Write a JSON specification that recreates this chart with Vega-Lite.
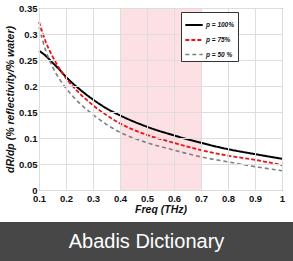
{
  "$schema": "https://vega.github.io/schema/vega-lite/v6.json",
  "autosize": {"type": "pad"},
  "padding": {"top": 2, "left": 0, "right": 0, "bottom": 0},
  "background": "white",
  "spacing": 6,
  "config": {
    "font": "Liberation Sans",
    "view": {"stroke": null},
    "axis": {"labelOverlap": false, "labelSeparation": 0, "labelBound": false}
  },
  "vconcat": [
    {
      "bounds": "flush",
      "spacing": 10,
      "hconcat": [
        {
          "width": 29,
          "height": 182,
          "data": {"values": []},
          "mark": "rect",
          "encoding": {}
        },
        {
          "width": 243,
          "height": 182,
          "view": {"stroke": "#555555", "strokeWidth": 1},
          "encoding": {
            "x": {"type": "quantitative", "scale": {"domain": [0.1, 1], "nice": false, "zero": false},
              "axis": {
                "values": [0.1, 0.2, 0.3, 0.4, 0.5, 0.6, 0.7, 0.8, 0.9, 1],
                "labelExpr": "format(datum.value, '~g')",
                "title": "Freq (THz)",
                "titleFont": "Liberation Sans", "titleFontSize": 10.5, "titleFontWeight": "bold", "titleFontStyle": "italic",
                "titleColor": "#111111", "titlePadding": 2,
                "labelFont": "Liberation Sans", "labelFontSize": 9.5, "labelFontWeight": "bold", "labelColor": "#111111",
                "labelFlush": false, "labelOverlap": false, "labelPadding": 3,
                "ticks": false, "domain": false,
                "grid": true, "gridColor": "#dddddd", "gridWidth": 1,
                "zindex": 1
              }}
          },
          "layer": [
            {
              "data": {"values": [{"start": 0.4, "end": 0.7}]},
              "mark": {"type": "rect", "fill": "#fce0e4"},
              "encoding": {
                "x": {"field": "start"},
                "x2": {"field": "end"}
              }
            },
            {
              "data": {"values": [
                {"freq": 0.1, "value": 0.268, "series": "p = 100%"},
                {"freq": 0.125, "value": 0.258, "series": "p = 100%"},
                {"freq": 0.15, "value": 0.245, "series": "p = 100%"},
                {"freq": 0.175, "value": 0.232, "series": "p = 100%"},
                {"freq": 0.2, "value": 0.2175, "series": "p = 100%"},
                {"freq": 0.25, "value": 0.194, "series": "p = 100%"},
                {"freq": 0.3, "value": 0.174, "series": "p = 100%"},
                {"freq": 0.35, "value": 0.157, "series": "p = 100%"},
                {"freq": 0.4, "value": 0.1435, "series": "p = 100%"},
                {"freq": 0.5, "value": 0.1216, "series": "p = 100%"},
                {"freq": 0.6, "value": 0.105, "series": "p = 100%"},
                {"freq": 0.7, "value": 0.0907, "series": "p = 100%"},
                {"freq": 0.8, "value": 0.0785, "series": "p = 100%"},
                {"freq": 0.9, "value": 0.069, "series": "p = 100%"},
                {"freq": 1.0, "value": 0.06, "series": "p = 100%"},
                {"freq": 0.1, "value": 0.323, "series": "p = 75%"},
                {"freq": 0.125, "value": 0.285, "series": "p = 75%"},
                {"freq": 0.15, "value": 0.257, "series": "p = 75%"},
                {"freq": 0.175, "value": 0.234, "series": "p = 75%"},
                {"freq": 0.2, "value": 0.215, "series": "p = 75%"},
                {"freq": 0.25, "value": 0.186, "series": "p = 75%"},
                {"freq": 0.3, "value": 0.163, "series": "p = 75%"},
                {"freq": 0.35, "value": 0.144, "series": "p = 75%"},
                {"freq": 0.4, "value": 0.128, "series": "p = 75%"},
                {"freq": 0.5, "value": 0.106, "series": "p = 75%"},
                {"freq": 0.6, "value": 0.0907, "series": "p = 75%"},
                {"freq": 0.7, "value": 0.0766, "series": "p = 75%"},
                {"freq": 0.8, "value": 0.066, "series": "p = 75%"},
                {"freq": 0.9, "value": 0.058, "series": "p = 75%"},
                {"freq": 1.0, "value": 0.048, "series": "p = 75%"},
                {"freq": 0.1, "value": 0.313, "series": "p = 50 %"},
                {"freq": 0.125, "value": 0.268, "series": "p = 50 %"},
                {"freq": 0.15, "value": 0.237, "series": "p = 50 %"},
                {"freq": 0.175, "value": 0.214, "series": "p = 50 %"},
                {"freq": 0.2, "value": 0.196, "series": "p = 50 %"},
                {"freq": 0.25, "value": 0.167, "series": "p = 50 %"},
                {"freq": 0.3, "value": 0.145, "series": "p = 50 %"},
                {"freq": 0.35, "value": 0.126, "series": "p = 50 %"},
                {"freq": 0.4, "value": 0.111, "series": "p = 50 %"},
                {"freq": 0.5, "value": 0.091, "series": "p = 50 %"},
                {"freq": 0.6, "value": 0.0766, "series": "p = 50 %"},
                {"freq": 0.7, "value": 0.0637, "series": "p = 50 %"},
                {"freq": 0.8, "value": 0.054, "series": "p = 50 %"},
                {"freq": 0.9, "value": 0.045, "series": "p = 50 %"},
                {"freq": 1.0, "value": 0.037, "series": "p = 50 %"}
              ]},
              "mark": {"type": "line", "interpolate": "monotone"},
              "encoding": {
                "x": {"field": "freq"},
                "y": {"field": "value", "type": "quantitative",
                  "scale": {"domain": [0, 0.35], "nice": false},
                  "axis": {
                    "values": [0, 0.05, 0.1, 0.15, 0.2, 0.25, 0.3, 0.35],
                    "format": "~g",
                    "title": "dR/dp (% reflectivity/% water)",
                    "titleFont": "Liberation Sans", "titleFontSize": 10.5, "titleFontWeight": "bold", "titleFontStyle": "italic",
                    "titleColor": "#111111", "titlePadding": 3,
                    "labelFont": "Liberation Sans", "labelFontSize": 9.5, "labelFontWeight": "bold", "labelColor": "#111111",
                    "labelFlush": false, "labelOverlap": false, "labelPadding": 2,
                    "ticks": false, "domain": false,
                    "grid": true, "gridColor": "#dddddd", "gridWidth": 1,
                    "zindex": 1
                  }},
                "color": {"field": "series", "type": "nominal",
                  "scale": {"domain": ["p = 100%", "p = 75%", "p = 50 %"], "range": ["#000000", "#ee1111", "#808080"]},
                  "legend": {
                    "title": null, "orient": "none", "legendX": 181, "legendY": 4,
                    "padding": 3, "strokeColor": "#333333", "fillColor": "white", "cornerRadius": 0,
                    "labelFont": "Liberation Sans", "labelFontSize": 6.5, "labelFontStyle": "italic", "labelFontWeight": "bold",
                    "labelColor": "#111111",
                    "symbolType": "stroke", "symbolSize": 300, "rowPadding": 1, "labelOffset": 2
                  }},
                "strokeDash": {"field": "series", "type": "nominal",
                  "scale": {"domain": ["p = 100%", "p = 75%", "p = 50 %"], "range": [[1, 0], [4, 2], [4, 3]]}},
                "strokeWidth": {"field": "series", "type": "nominal",
                  "scale": {"domain": ["p = 100%", "p = 75%", "p = 50 %"], "range": [2, 1.6, 1.1]}}
              }
            }
          ]
        }
      ]
    },
    {
      "width": 293,
      "height": 40,
      "data": {"values": [{"label": "Abadis Dictionary"}]},
      "layer": [
        {"mark": {"type": "rect", "fill": "#474747"}, "encoding": {}},
        {"mark": {"type": "text", "color": "white", "font": "Liberation Sans", "fontSize": 20, "baseline": "middle", "align": "center"},
          "encoding": {"text": {"field": "label"}}}
      ]
    }
  ]
}
